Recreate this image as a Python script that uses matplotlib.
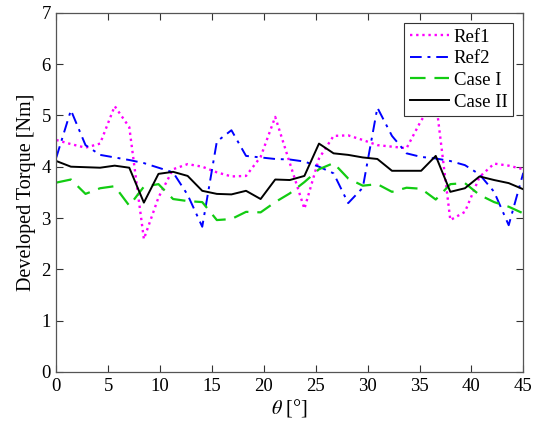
import numpy as np
import matplotlib
matplotlib.use("Agg")
import matplotlib.pyplot as plt

theta = np.linspace(0, 45, 33)

ref1 = [4.52, 4.44, 4.37, 4.45, 5.18, 4.77, 2.59, 3.40, 3.95, 4.05, 4.00, 3.89, 3.81,
        3.82, 4.19, 4.97, 4.07, 3.18, 4.16, 4.60, 4.61, 4.52, 4.42, 4.39, 4.36, 4.90,
        5.30, 2.96, 3.12, 3.80, 4.06, 4.02, 3.95]
ref2 = [4.18, 5.10, 4.42, 4.23, 4.18, 4.13, 4.07, 3.98, 3.89, 3.45, 2.83, 4.49, 4.71,
        4.21, 4.18, 4.15, 4.14, 4.10, 4.00, 3.87, 3.29, 3.59, 5.15, 4.60, 4.26, 4.19,
        4.16, 4.11, 4.03, 3.85, 3.51, 2.86, 3.88]
case1 = [3.69, 3.75, 3.47, 3.58, 3.62, 3.24, 3.61, 3.66, 3.37, 3.33, 3.31, 2.96, 2.98,
         3.12, 3.11, 3.31, 3.48, 3.70, 3.95, 4.07, 3.77, 3.63, 3.66, 3.51, 3.59, 3.57,
         3.36, 3.66, 3.68, 3.45, 3.31, 3.22, 3.09]
case2 = [4.11, 4.00, 3.99, 3.98, 4.02, 3.98, 3.30, 3.86, 3.90, 3.82, 3.53, 3.47, 3.46,
         3.53, 3.37, 3.75, 3.74, 3.82, 4.45, 4.26, 4.23, 4.18, 4.15, 3.92, 3.92, 3.92,
         4.21, 3.51, 3.58, 3.81, 3.74, 3.68, 3.56]

labels = ["Ref1", "Ref2", "Case I", "Case II"]
xticks = [0, 5, 10, 15, 20, 25, 30, 35, 40, 45]
yticks = [0, 1, 2, 3, 4, 5, 6, 7]

plt.rcParams['font.family'] = ['Liberation Serif', 'DejaVu Serif']
plt.rcParams['mathtext.fontset'] = 'stix'
fs = 13.5

fig = plt.figure(figsize=(5.42, 4.32), dpi=100)
ax = fig.add_axes([0.1039, 0.1389, 0.8616, 0.8317])

lw = 1.4
ax.plot(theta, ref1, color='#ff00ff', linestyle=(0, (1, 1.6)), lw=lw+0.3, label=labels[0])
ax.plot(theta, ref2, color='#0000ff', linestyle=(0, (6, 3, 1.5, 3)), lw=lw, label=labels[1])
ax.plot(theta, case1, color='#12cc12', linestyle=(0, (7, 4)), lw=lw+0.2, label=labels[2])
ax.plot(theta, case2, color='black', linestyle='-', lw=lw, label=labels[3])

ax.set_xlim(0, 45)
ax.set_ylim(0, 7)
ax.set_xticks(xticks)
ax.set_yticks(yticks)
ax.tick_params(direction='in', top=True, right=True, length=5, width=0.8,
               labelsize=fs, colors='#333333', labelcolor='black', pad=4)
for s in ax.spines.values():
    s.set_color('#555555')
    s.set_linewidth(0.9)

ax.set_xlabel(r'$\theta$ [°]', fontsize=fs + 1, labelpad=2)
ax.set_ylabel('Developed Torque [Nm]', fontsize=fs + 1, labelpad=4)

leg = ax.legend(loc='upper right', fontsize=fs, frameon=True, fancybox=False,
                framealpha=1, edgecolor='#333333', handlelength=2.1,
                handletextpad=0.25, labelspacing=0.24, borderpad=0.3,
                borderaxespad=0.55)
leg.get_frame().set_linewidth(0.8)

fig.savefig('out.png', dpi=100)
